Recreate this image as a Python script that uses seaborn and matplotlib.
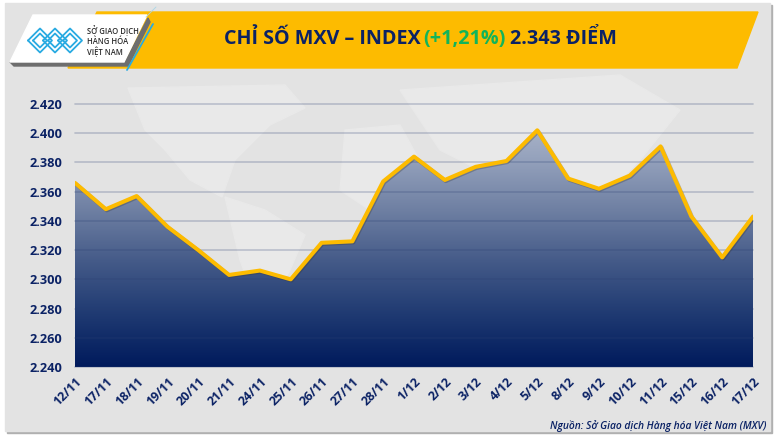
import numpy as np
import pandas as pd
import matplotlib.pyplot as plt
import matplotlib.patheffects as pe
from matplotlib.colors import LinearSegmentedColormap
from matplotlib.patches import Polygon, Rectangle
import seaborn as sns

# du lieu doc tu hinh
dates = ['12/11', '17/11', '18/11', '19/11', '20/11', '21/11', '24/11', '25/11', '26/11', '27/11',
         '28/11', '1/12', '2/12', '3/12', '4/12', '5/12', '8/12', '9/12', '10/12', '11/12',
         '15/12', '16/12', '17/12']
values = [2366, 2348, 2357, 2336, 2320, 2303, 2306, 2300, 2325, 2326,
          2367, 2384, 2368, 2377, 2381, 2402, 2369, 2362, 2371, 2391,
          2343, 2315, 2343]
y_ticks = [2240, 2260, 2280, 2300, 2320, 2340, 2360, 2380, 2400, 2420]
y_labels = ['2.240', '2.260', '2.280', '2.300', '2.320', '2.340', '2.360', '2.380', '2.400', '2.420']

NAVY = '#0b2265'
YELLOW = '#fdbb00'
BLUE = '#29abe2'
W, H = 777, 437

sns.set_theme(style='white')
plt.rcParams['font.family'] = ['Open Sans', 'Noto Sans', 'DejaVu Sans']

fig = plt.figure(figsize=(W / 100, H / 100), dpi=100, facecolor='white')

# lop nen, toa do pixel
bg = fig.add_axes([0, 0, 1, 1], zorder=0)
bg.set_xlim(0, W)
bg.set_ylim(H, 0)
bg.axis('off')
bg.add_patch(Rectangle((7, 5), 765, 428, color='#b0b0b0', zorder=0))
bg.add_patch(Rectangle((5, 3), 765, 428, color='#e3e3e3', zorder=1))

# ban do mo phia sau
continents = [
    [(128, 88), (145, 130), (165, 150), (190, 180), (222, 197), (235, 160), (270, 125), (305, 108), (285, 85)],
    [(225, 197), (265, 210), (305, 235), (290, 270), (270, 305), (255, 300), (240, 260)],
    [(345, 130), (400, 125), (430, 180), (460, 195), (430, 280), (390, 290), (370, 210), (340, 190)],
    [(400, 90), (620, 75), (680, 110), (640, 160), (600, 200), (560, 220), (500, 180), (440, 150)],
    [(610, 265), (680, 260), (690, 310), (630, 315)],
]
for shape in continents:
    bg.add_patch(Polygon(shape, color='#e9e9e9', zorder=2))

# bang tieu de
bg.add_patch(Polygon([(97, 12), (758, 12), (737, 68), (68, 68)], color=YELLOW, zorder=3))
bg.add_patch(Polygon([(10, 62), (125, 62), (148, 18), (150, 22), (128, 66), (14, 66)], color='#6e6e6e', zorder=3))
bg.add_patch(Polygon([(33, 15), (147, 15), (124, 62), (10, 62)], color='white', zorder=4))
bg.plot([127, 153], [70, 24], color=BLUE, lw=1.3, zorder=5)
bg.plot([146, 156], [17, 7], color='#a9d6e8', lw=0.6, zorder=5)

# logo
for cx in [40, 55, 70]:
    for r in [12, 7]:
        bg.plot([cx - r, cx, cx + r, cx, cx - r], [40.5, 40.5 - r, 40.5, 40.5 + r, 40.5],
                color=BLUE, lw=1.3, zorder=5)
bg.text(87, 41, 'SỞ GIAO DỊCH\nHÀNG HÓA\nVIỆT NAM', fontsize=5.5, color='#2b2b2b',
        va='center', ha='left', linespacing=1.1, zorder=6, fontweight='semibold')

# tieu de nhieu mau
title_font = dict(fontsize=14.2, fontweight='bold', va='center', ha='left', zorder=6)
bg.text(224, 39, 'CHỈ SỐ MXV – INDEX', color=NAVY, **title_font)
bg.text(423, 39, '(+1,21%)', color='#12b45a', **title_font)
bg.text(510, 39, '2.343 ĐIỂM', color=NAVY, **title_font)

bg.text(766, 426, 'Nguồn: Sở Giao dịch Hàng hóa Việt Nam (MXV)', fontsize=7.4, style='italic',
        fontweight='semibold', color=NAVY, ha='right', va='center', zorder=6)

# bieu do chinh
ax = fig.add_axes([75 / W, 1 - 367 / H, (753 - 75) / W, (367 - 104) / H], zorder=2)
ax.patch.set_alpha(0)
df = pd.DataFrame({'date': dates, 'value': values})
sns.lineplot(data=df, x='date', y='value', color=YELLOW, lw=2.9, ax=ax, zorder=5, sort=False)
ax.lines[0].set_path_effects([pe.SimpleLineShadow(offset=(0.7, -0.8), shadow_color='#333333', alpha=0.3),
                              pe.Normal()])

ax.set_xlim(0, len(dates) - 1)
ax.set_ylim(y_ticks[0], y_ticks[-1])

# to mau gradient duoi duong
fill_cmap = LinearSegmentedColormap.from_list(
    'mxv', ['#b8c0d0', '#96a3bd', '#6f80a3', '#445a88', '#1f3a72', '#001a5c'])
gradient = np.linspace(0, 1, 256).reshape(-1, 1)
poly = ax.fill_between(range(len(dates)), values, y_ticks[0], color='none')
img = ax.imshow(gradient, cmap=fill_cmap, extent=[0, len(dates) - 1, y_ticks[0], y_ticks[-1]],
                aspect='auto', origin='upper', zorder=2)
img.set_clip_path(poly.get_paths()[0], transform=ax.transData)

# luoi ngang
ax.grid(False)
for tick in y_ticks:
    ax.axhline(tick, color='#2b3f73', alpha=0.25, lw=1.2, zorder=3, clip_on=False)

ax.set_xlabel('')
ax.set_ylabel('')
ax.set_xticks(range(len(dates)))
ax.set_xticklabels(dates, rotation=45, ha='right', rotation_mode='anchor',
                   fontsize=9, fontweight='bold', color=NAVY)
ax.set_yticks(y_ticks)
ax.set_yticklabels(y_labels, fontsize=9.2, fontweight='bold', color=NAVY)
ax.tick_params(axis='both', length=0, pad=9)
ax.tick_params(axis='x', pad=6)
sns.despine(ax=ax, left=True, top=True, right=True, bottom=True)

fig.savefig('out.png', dpi=100)
